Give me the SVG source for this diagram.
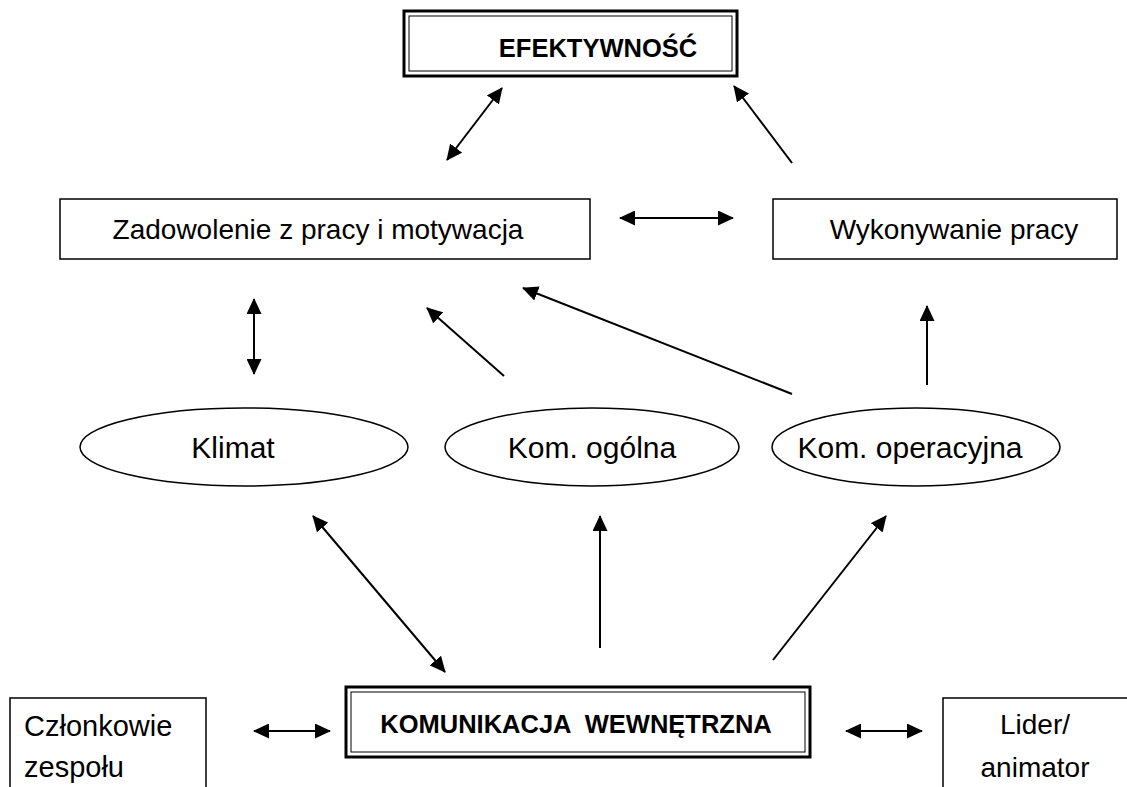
<svg xmlns="http://www.w3.org/2000/svg" width="1127" height="787" viewBox="0 0 1127 787">
<style>
.box{fill:#fff;stroke:#000;stroke-width:1.5}
.outer{fill:#fff;stroke:#000;stroke-width:3}
.inner{fill:none;stroke:#000;stroke-width:1}
.ell{fill:#fff;stroke:#000;stroke-width:1.5}
text{font-family:"Liberation Sans",Arial,sans-serif;fill:#000}
.t{font-size:28px;text-anchor:middle}
.e{font-size:30px;text-anchor:middle}
.s{font-size:29px}
.b{font-size:25.5px;font-weight:bold;text-anchor:middle;white-space:pre}
.c{stroke:#000;stroke-width:2;fill:none}
.one{marker-end:url(#ah)}
.two{marker-start:url(#ah);marker-end:url(#ah)}
</style>
<defs>
<marker id="ah" markerUnits="userSpaceOnUse" markerWidth="16" markerHeight="15" viewBox="0 0 16 15" refX="15" refY="7.5" orient="auto-start-reverse">
<path d="M0,0 L16,7.5 L0,15 z" fill="#000"/>
</marker>
</defs>
<rect width="1127" height="787" fill="#fff"/>
<g id="efektywnosc">
<rect class="outer" x="404" y="11" width="333" height="65"/>
<rect class="inner" x="409" y="16" width="323" height="55"/>
<text class="b" x="598" y="57">EFEKTYWNOŚĆ</text>
</g>
<g id="zadowolenie">
<rect class="box" x="60" y="199" width="530" height="60"/>
<text class="t" x="318" y="239">Zadowolenie z pracy i motywacja</text>
</g>
<g id="wykonywanie">
<rect class="box" x="773" y="199" width="344" height="60"/>
<text class="t" x="954" y="239">Wykonywanie pracy</text>
</g>
<g id="klimat">
<ellipse class="ell" cx="244" cy="447" rx="164" ry="39"/>
<text class="e" x="233" y="458">Klimat</text>
</g>
<g id="kom-ogolna">
<ellipse class="ell" cx="592" cy="447" rx="147" ry="39"/>
<text class="e" x="592" y="458">Kom. ogólna</text>
</g>
<g id="kom-operacyjna">
<ellipse class="ell" cx="916" cy="447" rx="144" ry="39"/>
<text class="e" x="910" y="458">Kom. operacyjna</text>
</g>
<g id="komunikacja">
<rect class="outer" x="346" y="687" width="464" height="70"/>
<rect class="inner" x="351" y="692" width="454" height="60"/>
<text class="b" x="576" y="733">KOMUNIKACJA  WEWNĘTRZNA</text>
</g>
<g id="czlonkowie">
<rect class="box" x="10" y="698" width="196" height="100"/>
<text class="s" x="24" y="736">Członkowie</text>
<text class="s" x="24" y="777">zespołu</text>
</g>
<g id="lider">
<rect class="box" x="943" y="698" width="200" height="100"/>
<text class="t" x="1035" y="734">Lider/</text>
<text class="t" x="1035" y="777">animator</text>
</g>
<g id="connectors">
<line class="c two" x1="447" y1="160" x2="502" y2="88"/>
<line class="c one" x1="792" y1="163" x2="734" y2="86"/>
<line class="c two" x1="620" y1="218" x2="733" y2="218"/>
<line class="c two" x1="254" y1="299" x2="254" y2="374"/>
<line class="c one" x1="504" y1="376" x2="427" y2="308"/>
<line class="c one" x1="792" y1="394" x2="523" y2="288"/>
<line class="c one" x1="927" y1="385" x2="927" y2="306"/>
<line class="c two" x1="313" y1="516" x2="445" y2="672"/>
<line class="c one" x1="600" y1="648" x2="600" y2="516"/>
<line class="c one" x1="773" y1="660" x2="886" y2="516"/>
<line class="c two" x1="254" y1="731" x2="330" y2="731"/>
<line class="c two" x1="846" y1="731" x2="922" y2="731"/>
</g>
</svg>
